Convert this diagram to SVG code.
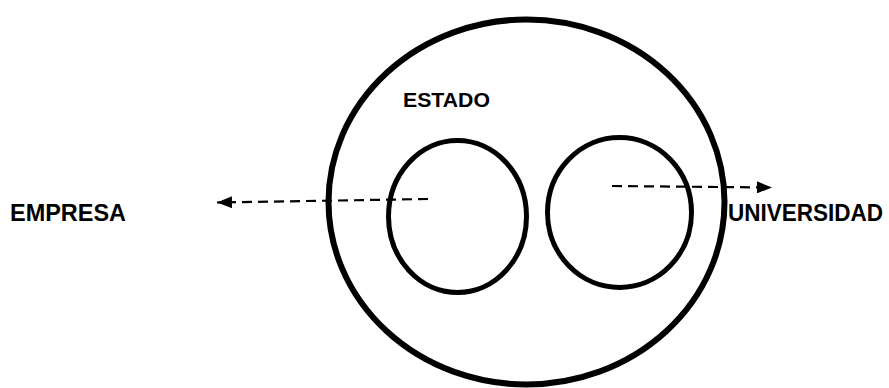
<svg xmlns="http://www.w3.org/2000/svg" width="889" height="388" viewBox="0 0 889 388">
<defs>
<style>
.ring{fill:none;stroke:#000;}
.lbl{font-family:"Liberation Sans",Arial,sans-serif;font-weight:bold;fill:#000;}
.dash{stroke:#000;stroke-width:2.2;stroke-dasharray:10 6;fill:none;}
</style>
<marker id="ah" viewBox="0 0 10 10" refX="10" refY="5" markerWidth="15" markerHeight="12" markerUnits="userSpaceOnUse" orient="auto" preserveAspectRatio="none">
<path d="M0,0 L10,5 L0,10 Z" fill="#000"/>
</marker>
</defs>
<rect width="889" height="388" fill="#fff"/>
<g id="estado">
<ellipse class="ring" cx="526.5" cy="202" rx="198" ry="182.5" stroke-width="6"/>
<text class="lbl" x="403" y="107" font-size="21" textLength="87" lengthAdjust="spacingAndGlyphs">ESTADO</text>
</g>
<g id="circulo-izq">
<ellipse class="ring" cx="457.5" cy="216.5" rx="69" ry="76" stroke-width="5"/>
</g>
<g id="circulo-der">
<ellipse class="ring" cx="619.5" cy="212.5" rx="72" ry="75" stroke-width="5"/>
</g>
<g id="empresa">
<text class="lbl" x="10" y="221" font-size="24" textLength="116" lengthAdjust="spacingAndGlyphs">EMPRESA</text>
</g>
<g id="universidad">
<text class="lbl" x="728" y="221" font-size="24" textLength="155" lengthAdjust="spacingAndGlyphs">UNIVERSIDAD</text>
</g>
<g id="connectors">
<path class="dash" d="M428,199 L217,202.5" marker-end="url(#ah)"/>
<path class="dash" d="M612,186 L772,187.5" marker-end="url(#ah)"/>
</g>
</svg>
